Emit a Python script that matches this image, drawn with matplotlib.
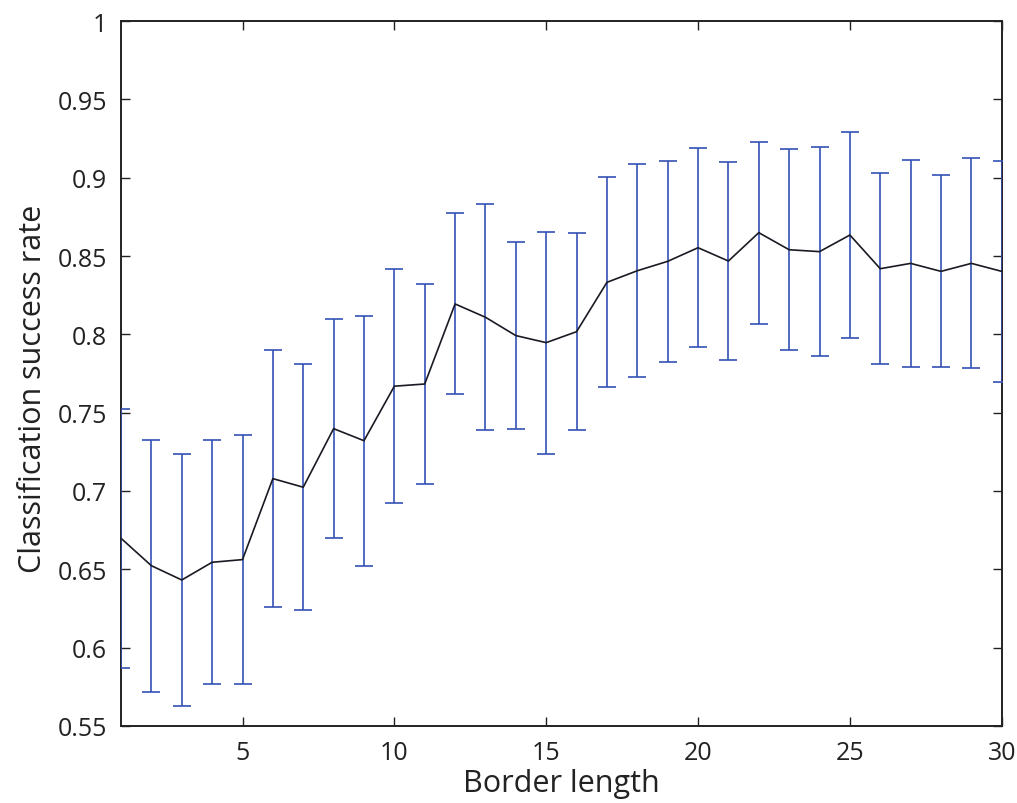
import matplotlib
matplotlib.use("Agg")
import matplotlib.pyplot as plt
import numpy as np

# Border lengths tested
border_length = list(range(1, 31))

# Mean classification success rate for each border length
success_rate = [
    0.6698, 0.6523, 0.6432, 0.6545, 0.6562, 0.7079, 0.7024, 0.7398, 0.7321, 0.7669,
    0.7683, 0.8194, 0.8109, 0.7992, 0.7947, 0.8017, 0.8332, 0.8406, 0.8466, 0.8553,
    0.8468, 0.8649, 0.8540, 0.8528, 0.8634, 0.8419, 0.8453, 0.8402, 0.8453, 0.8402,
]

# Standard deviation (half-height of each error bar)
success_std = [
    0.0827, 0.0804, 0.0807, 0.0780, 0.0796, 0.0821, 0.0784, 0.0701, 0.0797, 0.0746,
    0.0640, 0.0578, 0.0721, 0.0595, 0.0708, 0.0628, 0.0671, 0.0681, 0.0643, 0.0634,
    0.0632, 0.0580, 0.0642, 0.0666, 0.0659, 0.0611, 0.0661, 0.0612, 0.0670, 0.0705,
]

x_ticks = [5, 10, 15, 20, 25, 30]
y_ticks = [0.55, 0.6, 0.65, 0.7, 0.75, 0.8, 0.85, 0.9, 0.95, 1.0]
y_tick_labels = ["0.55", "0.6", "0.65", "0.7", "0.75", "0.8", "0.85", "0.9", "0.95", "1"]

plt.rcParams["font.family"] = ["Open Sans", "DejaVu Sans"]

fig = plt.figure(figsize=(10.17, 8.04), dpi=100)
ax = fig.add_axes([0.119, 0.0958, 0.866, 0.8768])

ax.errorbar(border_length, success_rate, yerr=success_std, fmt="none",
            ecolor="#3552b5", elinewidth=1.2, capsize=6.5, capthick=1.2, zorder=3)
ax.plot(border_length, success_rate, color="#1a1a24", linewidth=1.2, zorder=4)

ax.set_xlim(1, 30)
ax.set_ylim(0.55, 1.0)
ax.set_xticks(x_ticks)
ax.set_xticklabels([str(t) for t in x_ticks])
ax.set_yticks(y_ticks)
ax.set_yticklabels(y_tick_labels)

ax.tick_params(direction="in", length=6.5, width=1.0, top=True, right=True,
               labelsize=18, colors="#222222", pad=10)
for spine in ax.spines.values():
    spine.set_linewidth(1.4)
    spine.set_color("#222222")

ax.set_xlabel("Border length", fontsize=22, labelpad=2, color="#222222")
ax.set_ylabel("Classification success rate", fontsize=22, color="#222222")
ax.yaxis.set_label_coords(-0.083, 0.48)

fig.savefig("out.png", dpi=100, facecolor="white")
